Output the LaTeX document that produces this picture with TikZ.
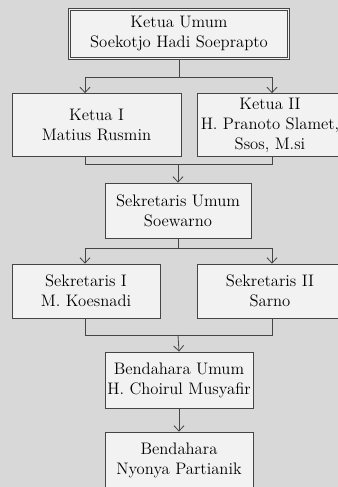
\documentclass[tikz,border=0pt]{standalone}
\usepackage{tikz}
\usetikzlibrary{arrows.meta,positioning}
\definecolor{Backdrop}{HTML}{D8D8D8}
\definecolor{Edge}{HTML}{454545}
\definecolor{Soft}{HTML}{F2F2F2}
\tikzset{
orgbox/.style={draw=Edge, semithick, fill=Soft, align=center, inner sep=0pt, font=\fontsize{12.5}{15}\selectfont},
orgtop/.style={orgbox, double=Soft, double distance=1.3pt},
orgline/.style={semithick, draw=Edge},
orgarrow/.style={-{Straight Barb[length=4pt,width=7.5pt]}, semithick, draw=Edge}
}

\begin{document}
\begin{tikzpicture}[x=0.75pt, y=-0.75pt]
  \fill[Backdrop] (0,0) rectangle (338,487);
  \useasboundingbox (0,0) rectangle (338,487);
  \node[orgtop, minimum width=219*0.75pt, minimum height=49*0.75pt] (umum) at (179,34) {Ketua Umum\\Soekotjo Hadi Soeprapto};
  \node[orgbox, minimum width=169*0.75pt, minimum height=63*0.75pt] (ketua1) at (96.5,125) {Ketua I\\Matius Rusmin};
  \node[orgbox, minimum width=146*0.75pt, minimum height=63*0.75pt] (ketua2) at (270,125) {Ketua II\\H. Pranoto Slamet,\\Ssos, M.si};
  \node[orgbox, minimum width=146*0.75pt, minimum height=55*0.75pt] (sekum) at (178,210.5) {Sekretaris Umum\\Soewarno};
  \node[orgbox, minimum width=148*0.75pt, minimum height=54*0.75pt] (sek1) at (86,291) {Sekretaris I\\M. Koesnadi};
  \node[orgbox, minimum width=146*0.75pt, minimum height=54*0.75pt] (sek2) at (270,291) {Sekretaris II\\Sarno};
  \node[orgbox, minimum width=148*0.75pt, minimum height=56*0.75pt] (benum) at (179,380) {Bendahara Umum\\H. Choirul Musyafir};
  \node[orgbox, minimum width=148*0.75pt, minimum height=56*0.75pt] (bend) at (179,460) {Bendahara\\Nyonya Partianik};
  \coordinate (lx) at (85,0);
  \coordinate (rx) at (272,0);
  \coordinate (bus1) at (179,77);
  \coordinate (bus2) at (178,164);
  \coordinate (bus3) at (178,248);
  \coordinate (bus4) at (178,335);
  % ketua umum to ketua I / II
  \draw[orgline] (umum.south) -- (bus1);
  \draw[orgline] (bus1 -| lx) -- (bus1 -| rx);
  \draw[orgarrow] (bus1 -| lx) -- (lx |- ketua1.north);
  \draw[orgarrow] (bus1 -| rx) -- (rx |- ketua2.north);
  % ketua I / II to sekretaris umum
  \draw[orgline] (lx |- ketua1.south) -- (bus2 -| lx) -- (bus2 -| rx) -- (rx |- ketua2.south);
  \draw[orgarrow] (bus2) -- (sekum.north);
  % sekretaris umum to sekretaris I / II
  \draw[orgline] (sekum.south) -- (bus3);
  \draw[orgline] (bus3 -| lx) -- (bus3 -| rx);
  \draw[orgarrow] (bus3 -| lx) -- (lx |- sek1.north);
  \draw[orgarrow] (bus3 -| rx) -- (rx |- sek2.north);
  % sekretaris I / II to bendahara
  \draw[orgline] (lx |- sek1.south) -- (bus4 -| lx) -- (bus4 -| rx) -- (rx |- sek2.south);
  \draw[orgarrow] (bus4) -- (benum.north);
  \draw[orgarrow] (benum) -- (bend);
\end{tikzpicture}
\end{document}
